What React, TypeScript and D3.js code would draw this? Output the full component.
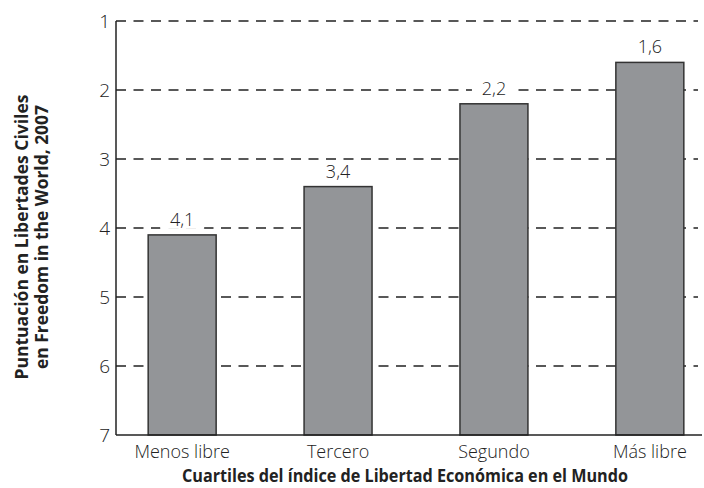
import React, { useEffect, useRef } from 'react';
import * as d3 from 'd3';

const categories = ['Menos libre', 'Tercero', 'Segundo', 'Más libre'];
const scores = [4.1, 3.4, 2.2, 1.6];
const yTicks = [1, 2, 3, 4, 5, 6, 7];
const yTitle = ['Puntuación en Libertades Civiles', 'en Freedom in the World, 2007'];
const xTitle = 'Cuartiles del índice de Libertad Económica en el Mundo';

const W = 704;
const H = 488;
const lightFont = '"Open Sans", "DejaVu Sans", sans-serif';
const boldFont = '"Open Sans", "DejaVu Sans", sans-serif';

function App() {
  const svgRef = useRef<SVGSVGElement>(null);

  useEffect(() => {
    const svg = d3.select(svgRef.current);
    svg.selectAll('*').remove();

    const left = 116;
    const right = 698;

    const y = d3.scaleLinear().domain([1, 7]).range([21, 435]);
    const x = d3.scaleBand<string>()
      .domain(categories)
      .range([117, 715])
      .paddingInner(0.564)
      .paddingOuter(0.2);

    // dashed gridlines
    svg.append('g')
      .selectAll('line')
      .data(yTicks.slice(0, -1))
      .join('line')
      .attr('x1', left)
      .attr('x2', right)
      .attr('y1', d => y(d))
      .attr('y2', d => y(d))
      .attr('stroke', '#222')
      .attr('stroke-width', 1.3)
      .attr('stroke-dasharray', '10,7.5');

    // bars
    const fmt = (v: number) => String(v).replace('.', ',');
    svg.append('g')
      .selectAll('rect')
      .data(scores)
      .join('rect')
      .attr('x', (d, i) => x(categories[i])!)
      .attr('y', d => y(d))
      .attr('width', x.bandwidth())
      .attr('height', d => y(7) - y(d))
      .attr('fill', '#939598')
      .attr('stroke', '#333')
      .attr('stroke-width', 1.5);

    // value labels with white backing
    const labels = svg.append('g')
      .selectAll('g')
      .data(scores)
      .join('g')
      .attr('transform', (d, i) => `translate(${x(categories[i])! + x.bandwidth() / 2},${y(d) - 9})`);
    labels.append('rect')
      .attr('x', -22)
      .attr('y', -17)
      .attr('width', 44)
      .attr('height', 20)
      .attr('fill', '#fff');
    labels.append('text')
      .attr('text-anchor', 'middle')
      .style('font-family', lightFont)
      .style('font-weight', 300)
      .style('font-size', '18px')
      .attr('fill', '#222')
      .text(d => fmt(d));

    // axes lines
    svg.append('line')
      .attr('x1', left).attr('x2', left)
      .attr('y1', y(1)).attr('y2', y(7))
      .attr('stroke', '#222').attr('stroke-width', 1.5);
    svg.append('line')
      .attr('x1', left).attr('x2', 702)
      .attr('y1', y(7)).attr('y2', y(7))
      .attr('stroke', '#222').attr('stroke-width', 1.5);

    // y tick labels
    svg.append('g')
      .selectAll('text')
      .data(yTicks)
      .join('text')
      .attr('x', left - 6)
      .attr('y', d => y(d) + 7)
      .attr('text-anchor', 'end')
      .style('font-family', lightFont)
      .style('font-weight', 300)
      .style('font-size', '19px')
      .attr('fill', '#222')
      .text(d => d);

    // x tick labels
    svg.append('g')
      .selectAll('text')
      .data(categories)
      .join('text')
      .attr('x', d => x(d)! + x.bandwidth() / 2)
      .attr('y', 458)
      .attr('text-anchor', 'middle')
      .style('font-family', lightFont)
      .style('font-weight', 300)
      .style('font-size', '18px')
      .attr('fill', '#222')
      .text(d => d);

    // x title
    svg.append('text')
      .attr('x', 405)
      .attr('y', 482)
      .attr('text-anchor', 'middle')
      .style('font-family', boldFont)
      .style('font-weight', 700)
      .style('font-size', '17.5px')
      .attr('fill', '#222')
      .attr('textLength', 446)
      .attr('lengthAdjust', 'spacingAndGlyphs')
      .text(xTitle);

    // y title
    svg.append('g')
      .selectAll('text')
      .data(yTitle)
      .join('text')
      .attr('transform', (d, i) => `translate(${28 + i * 20},237) rotate(-90)`)
      .attr('text-anchor', 'middle')
      .style('font-family', boldFont)
      .style('font-weight', 700)
      .style('font-size', '17.5px')
      .attr('fill', '#222')
      .attr('textLength', (d, i) => (i === 0 ? 285 : 264))
      .attr('lengthAdjust', 'spacingAndGlyphs')
      .text(d => d);
  }, []);

  return (
    <svg
      ref={svgRef}
      width={W}
      height={H}
      style={{ position: 'absolute', left: 0, top: 0, background: '#fff' }}
    />
  );
}

export default App;
